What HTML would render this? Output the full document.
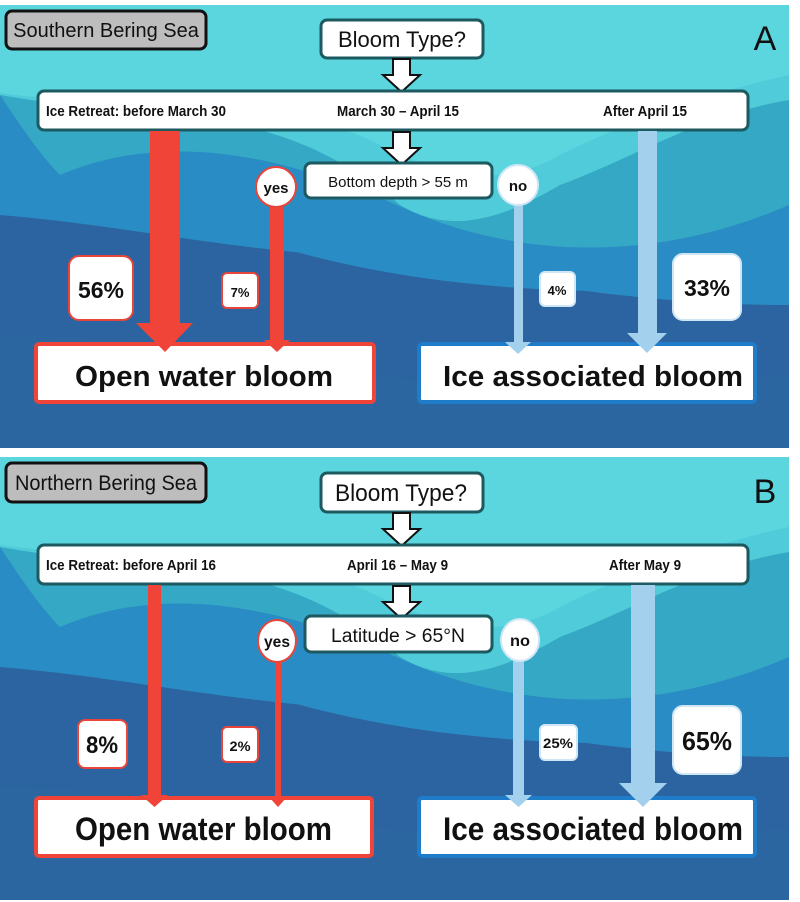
<!DOCTYPE html>
<html><head><meta charset="utf-8"><style>
html,body{margin:0;padding:0;background:#fff;}
svg{display:block;}
text{font-family:"Liberation Sans",Arial,sans-serif;}
</style></head><body>
<svg width="800" height="902" viewBox="0 0 800 902" xmlns="http://www.w3.org/2000/svg">
<defs>
<g id="bg">
<rect x="0" y="0" width="789" height="443" fill="#2b64a0"/>
<path d="M0,95 C80,130 140,190 240,230 C360,270 520,300 789,280 L789,0 L0,0Z" fill="#2a8cc4"/>
<path d="M0,210 C120,220 200,240 330,250 C450,260 600,300 789,300 L789,0 L0,0Z" fill="#2a8cc4"/>
<path d="M60,170 C200,110 350,180 420,210 C520,250 650,260 789,200 L789,0 L0,0 L0,90 C20,120 40,150 60,170Z" fill="#34a8c4"/>
<path d="M0,0 L789,0 L789,95 C700,110 640,150 560,180 C500,215 450,230 400,200 C330,140 260,120 200,115 C120,108 60,100 0,90Z" fill="#4fcbd9"/>
<path d="M0,0 L789,0 L789,70 C700,90 620,120 560,150 C500,185 440,170 380,140 C300,100 200,95 100,95 C60,95 30,92 0,88Z" fill="#5bd6df"/>
<path d="M0,330 C150,330 300,360 450,380 C600,400 700,380 789,370 L789,443 L0,443Z" fill="#2c66a0"/>
</g>
</defs>

<!-- ===== PANEL A ===== -->
<g transform="translate(0,5)"><use href="#bg"/></g>
<rect x="6" y="11" width="200" height="38" rx="6" fill="#bdbdbd" stroke="#111" stroke-width="3"/>
<text x="106" y="37" font-size="20" text-anchor="middle" fill="#111">Southern Bering Sea</text>
<rect x="321" y="20" width="162" height="38" rx="6" fill="#fff" stroke="#1d5a60" stroke-width="3"/>
<text x="402" y="47" font-size="22" text-anchor="middle" fill="#111">Bloom Type?</text>
<text x="765" y="50" font-size="34" text-anchor="middle" fill="#111">A</text>
<path d="M393,59 L410,59 L410,75 L420,75 L401.5,92 L383,75 L393,75Z" fill="#fff" stroke="#111" stroke-width="2"/>
<rect x="38" y="91" width="710" height="39" rx="6" fill="#fff" stroke="#1d5a60" stroke-width="3"/>
<text x="46" y="116" font-size="15" font-weight="bold" fill="#111" textLength="180" lengthAdjust="spacingAndGlyphs">Ice Retreat: before March 30</text>
<text x="337" y="116" font-size="15" font-weight="bold" fill="#111" textLength="122" lengthAdjust="spacingAndGlyphs">March 30 – April 15</text>
<text x="603" y="116" font-size="15" font-weight="bold" fill="#111" textLength="84" lengthAdjust="spacingAndGlyphs">After April 15</text>
<path d="M393,132 L410,132 L410,148 L420,148 L401.5,165 L383,148 L393,148Z" fill="#fff" stroke="#111" stroke-width="2"/>
<rect x="305" y="163" width="187" height="35" rx="6" fill="#fff" stroke="#1d5a60" stroke-width="3"/>
<text x="398" y="187" font-size="15" text-anchor="middle" fill="#111">Bottom depth &gt; 55 m</text>
<rect x="36" y="344" width="338" height="58" rx="3" fill="#fff" stroke="#f04438" stroke-width="4"/>
<text x="75" y="386" font-size="29" font-weight="bold" fill="#111" textLength="258" lengthAdjust="spacingAndGlyphs">Open water bloom</text>
<rect x="419" y="344" width="336" height="58" rx="3" fill="#fff" stroke="#1e7cc8" stroke-width="4"/>
<text x="443" y="386" font-size="29" font-weight="bold" fill="#111" textLength="300" lengthAdjust="spacingAndGlyphs">Ice associated bloom</text>
<path d="M150,131 L180,131 L180,323 L193,323 L165,352 L136,323 L150,323Z" fill="#f04438"/>
<path d="M270,200 L284,200 L284,340 L290,340 L277,352 L264,340 L270,340Z" fill="#f04438"/>
<circle cx="276" cy="187" r="20" fill="#fff" stroke="#e8453a" stroke-width="2"/>
<text x="276" y="193" font-size="15" font-weight="bold" text-anchor="middle" fill="#111">yes</text>
<path d="M514,200 L523,200 L523,342 L531,342 L518,354 L505,342 L514,342Z" fill="#a3d0ec"/>
<circle cx="518" cy="185" r="20" fill="#fff" stroke="#cfe6f5" stroke-width="2"/>
<text x="518" y="191" font-size="15" font-weight="bold" text-anchor="middle" fill="#111">no</text>
<path d="M638,131 L657,131 L657,333 L667,333 L647,353 L627,333 L638,333Z" fill="#a3d0ec"/>
<rect x="69" y="256" width="64" height="64" rx="10" fill="#fff" stroke="#e8453a" stroke-width="2"/>
<text x="101" y="298" font-size="23" font-weight="bold" text-anchor="middle" fill="#111">56%</text>
<rect x="222" y="273" width="36" height="35" rx="5" fill="#fff" stroke="#e8453a" stroke-width="2"/>
<text x="240" y="297" font-size="13" font-weight="bold" text-anchor="middle" fill="#111">7%</text>
<rect x="540" y="272" width="35" height="34" rx="5" fill="#fff" stroke="#cfe6f5" stroke-width="2"/>
<text x="557" y="295" font-size="13" font-weight="bold" text-anchor="middle" fill="#111">4%</text>
<rect x="673" y="254" width="68" height="66" rx="10" fill="#fff" stroke="#cfe6f5" stroke-width="2"/>
<text x="707" y="296" font-size="23" font-weight="bold" text-anchor="middle" fill="#111">33%</text>

<!-- ===== PANEL B ===== -->
<g transform="translate(0,457)"><use href="#bg"/></g>
<rect x="6" y="463" width="200" height="39" rx="6" fill="#bdbdbd" stroke="#111" stroke-width="3"/>
<text x="15" y="490" font-size="21" fill="#111" textLength="182" lengthAdjust="spacingAndGlyphs">Northern Bering Sea</text>
<rect x="321" y="473" width="162" height="39" rx="6" fill="#fff" stroke="#1d5a60" stroke-width="3"/>
<text x="335" y="501" font-size="24" fill="#111" textLength="132" lengthAdjust="spacingAndGlyphs">Bloom Type?</text>
<text x="765" y="503" font-size="34" text-anchor="middle" fill="#111">B</text>
<path d="M393,513 L410,513 L410,529 L420,529 L401.5,546 L383,529 L393,529Z" fill="#fff" stroke="#111" stroke-width="2"/>
<rect x="38" y="545" width="710" height="39" rx="6" fill="#fff" stroke="#1d5a60" stroke-width="3"/>
<text x="46" y="570" font-size="15" font-weight="bold" fill="#111" textLength="170" lengthAdjust="spacingAndGlyphs">Ice Retreat: before April 16</text>
<text x="347" y="570" font-size="15" font-weight="bold" fill="#111" textLength="101" lengthAdjust="spacingAndGlyphs">April 16 – May 9</text>
<text x="609" y="570" font-size="15" font-weight="bold" fill="#111" textLength="72" lengthAdjust="spacingAndGlyphs">After May 9</text>
<path d="M393,586 L410,586 L410,602 L420,602 L401.5,619 L383,602 L393,602Z" fill="#fff" stroke="#111" stroke-width="2"/>
<rect x="305" y="616" width="187" height="36" rx="6" fill="#fff" stroke="#1d5a60" stroke-width="3"/>
<text x="331" y="642" font-size="19" fill="#111" textLength="134" lengthAdjust="spacingAndGlyphs">Latitude &gt; 65°N</text>
<rect x="36" y="798" width="336" height="58" rx="3" fill="#fff" stroke="#f04438" stroke-width="4"/>
<text x="75" y="840" font-size="32" font-weight="bold" fill="#111" textLength="257" lengthAdjust="spacingAndGlyphs">Open water bloom</text>
<rect x="419" y="798" width="336" height="58" rx="3" fill="#fff" stroke="#1e7cc8" stroke-width="4"/>
<text x="443" y="840" font-size="32" font-weight="bold" fill="#111" textLength="300" lengthAdjust="spacingAndGlyphs">Ice associated bloom</text>
<path d="M148,585 L161,585 L161,795 L168,795 L154.5,807 L141,795 L148,795Z" fill="#f04438"/>
<path d="M275,655 L281,655 L281,797 L287,797 L278,807 L269,797 L275,797Z" fill="#f04438"/>
<ellipse cx="277" cy="641" rx="19" ry="21" fill="#fff" stroke="#e8453a" stroke-width="2"/>
<text x="277" y="647" font-size="16" font-weight="bold" text-anchor="middle" fill="#111" textLength="26" lengthAdjust="spacingAndGlyphs">yes</text>
<path d="M513,655 L524,655 L524,795 L532,795 L518.5,807 L505,795 L513,795Z" fill="#a3d0ec"/>
<ellipse cx="520" cy="640" rx="19" ry="21" fill="#fff" stroke="#cfe6f5" stroke-width="2"/>
<text x="520" y="646" font-size="16" font-weight="bold" text-anchor="middle" fill="#111" textLength="20" lengthAdjust="spacingAndGlyphs">no</text>
<path d="M631,585 L655,585 L655,783 L667,783 L643,807 L619,783 L631,783Z" fill="#a3d0ec"/>
<rect x="78" y="720" width="49" height="48" rx="7" fill="#fff" stroke="#e8453a" stroke-width="2"/>
<text x="102" y="753" font-size="24" font-weight="bold" text-anchor="middle" fill="#111" textLength="32" lengthAdjust="spacingAndGlyphs">8%</text>
<rect x="222" y="727" width="36" height="35" rx="5" fill="#fff" stroke="#e8453a" stroke-width="2"/>
<text x="240" y="751" font-size="14" font-weight="bold" text-anchor="middle" fill="#111" textLength="21" lengthAdjust="spacingAndGlyphs">2%</text>
<rect x="540" y="725" width="37" height="35" rx="5" fill="#fff" stroke="#cfe6f5" stroke-width="2"/>
<text x="558" y="748" font-size="14" font-weight="bold" text-anchor="middle" fill="#111" textLength="30" lengthAdjust="spacingAndGlyphs">25%</text>
<rect x="673" y="706" width="68" height="68" rx="10" fill="#fff" stroke="#cfe6f5" stroke-width="2"/>
<text x="707" y="750" font-size="26" font-weight="bold" text-anchor="middle" fill="#111" textLength="50" lengthAdjust="spacingAndGlyphs">65%</text>
</svg>
</body></html>
